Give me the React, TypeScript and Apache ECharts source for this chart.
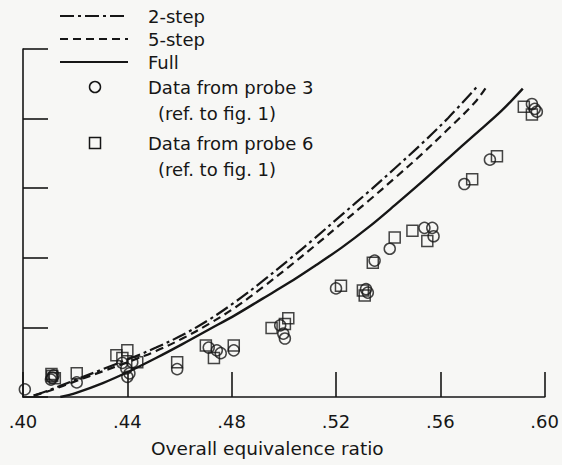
import React, { useEffect, useRef } from "react";
import * as echarts from "echarts";

// Tick values of the x axis (equivalence ratio)
const xTickMin = 0.4;
const xTickMax = 0.6;
const xTickStep = 0.04;

// Model curves: [equivalence ratio, value]
const twoStep: [number, number][] = [
  [0.4041, 0.02], [0.4102, 0.1], [0.4204, 0.25], [0.4306, 0.4], [0.4408, 0.55], [0.451, 0.71],
  [0.4611, 0.89], [0.4713, 1.11], [0.4815, 1.37], [0.4917, 1.66], [0.5019, 1.97], [0.5121, 2.29],
  [0.5223, 2.62], [0.5325, 2.95], [0.5427, 3.29], [0.5529, 3.64], [0.563, 4.01], [0.5741, 4.46],
];
const fiveStep: [number, number][] = [
  [0.4041, 0.02], [0.4102, 0.09], [0.4204, 0.23], [0.4306, 0.37], [0.4408, 0.51], [0.451, 0.66],
  [0.4611, 0.84], [0.4713, 1.05], [0.4815, 1.29], [0.4917, 1.57], [0.5019, 1.87], [0.5121, 2.18],
  [0.5223, 2.5], [0.5325, 2.82], [0.5427, 3.15], [0.5529, 3.49], [0.563, 3.85], [0.5732, 4.23], [0.5779, 4.47],
];
const full: [number, number][] = [
  [0.4143, 0], [0.4204, 0.06], [0.4306, 0.2], [0.4408, 0.37], [0.451, 0.56], [0.4611, 0.76],
  [0.4713, 0.97], [0.4815, 1.18], [0.4917, 1.41], [0.5019, 1.64], [0.5121, 1.89], [0.5223, 2.15],
  [0.5325, 2.44], [0.5427, 2.76], [0.5529, 3.09], [0.563, 3.43], [0.5732, 3.77], [0.5834, 4.11], [0.5916, 4.43],
];

// Measured data
const probe3: [number, number][] = [
  [0.4007, 0.11],
  [0.4112, 0.28], [0.4117, 0.31], [0.4107, 0.25],
  [0.4206, 0.21],
  [0.4381, 0.49], [0.4419, 0.5], [0.4408, 0.34], [0.44, 0.29], [0.4396, 0.41],
  [0.4591, 0.4],
  [0.4712, 0.71], [0.4743, 0.67], [0.4758, 0.63], [0.4808, 0.67],
  [0.4986, 1.03], [0.4998, 0.91], [0.5004, 0.84],
  [0.52, 1.56],
  [0.5322, 1.5], [0.5315, 1.55],
  [0.5348, 1.96], [0.5406, 2.13],
  [0.5539, 2.43], [0.5569, 2.43], [0.5574, 2.31],
  [0.5692, 3.06],
  [0.579, 3.41],
  [0.5951, 4.21], [0.5962, 4.14], [0.597, 4.1],
];
const probe6: [number, number][] = [
  [0.4112, 0.3], [0.4122, 0.27], [0.4109, 0.33],
  [0.4206, 0.34],
  [0.4358, 0.6], [0.44, 0.67], [0.4438, 0.5], [0.4381, 0.56],
  [0.4591, 0.5],
  [0.4701, 0.74], [0.4732, 0.56], [0.4808, 0.74],
  [0.4953, 0.99], [0.5017, 1.13], [0.5004, 1.05],
  [0.5219, 1.6],
  [0.5303, 1.53], [0.531, 1.46],
  [0.5341, 1.93], [0.5425, 2.29],
  [0.5493, 2.39], [0.555, 2.24],
  [0.5722, 3.13],
  [0.5817, 3.46],
  [0.592, 4.17], [0.5951, 4.06],
];

const legendLabels = ["2-step", "5-step", "Full", "Data from probe 3", "Data from probe 6"];
const legendSub = "(ref. to fig. 1)";
const xAxisTitle = "Overall equivalence ratio";

const INK = "#161616";
const FONT = "'DejaVu Sans', Verdana, sans-serif";
const DASHDOT = [14, 4, 3, 4];
const DASH = [8, 5];

export default function App() {
  const ref = useRef<HTMLDivElement>(null);
  useEffect(() => {
    if (!ref.current) return;
    const chart = echarts.init(ref.current, null, { renderer: "svg" });
    const lineSeries = (name: string, data: [number, number][], type: any, width: number) => ({
      name,
      type: "line",
      data,
      smooth: 0.35,
      showSymbol: false,
      symbol: "none",
      lineStyle: { color: INK, width, type },
      z: 3,
    });
    const scatterSeries = (name: string, data: [number, number][], symbol: string, size: number) => ({
      name,
      type: "scatter",
      data,
      symbol,
      symbolSize: size,
      itemStyle: { color: "rgba(0,0,0,0)", borderColor: INK, borderWidth: 1.5 },
      z: 4,
    });
    const legendText = (text: string, x: number, y: number) => ({
      type: "text",
      x,
      y,
      style: { text, fill: INK, font: `18px ${FONT}`, verticalAlign: "middle" },
    });
    const legendLine = (y: number, dash: any) => ({
      type: "line",
      shape: { x1: 60, y1: y, x2: 128, y2: y },
      style: { stroke: INK, lineWidth: 2.2, lineDash: dash },
    });
    chart.setOption({
      animation: false,
      backgroundColor: "#f7f7f5",
      grid: { left: 23, right: 14, top: 49, bottom: 68, containLabel: false },
      xAxis: {
        type: "value",
        min: xTickMin,
        max: xTickMax,
        interval: xTickStep,
        splitLine: { show: false },
        axisLine: { lineStyle: { color: INK, width: 1.6 } },
        axisTick: { inside: true, length: 25, lineStyle: { color: INK, width: 1.6 } },
        axisLabel: {
          color: INK,
          fontSize: 18,
          fontFamily: FONT,
          margin: 15,
          formatter: (v: number) => v.toFixed(2).replace(/^0/, ""),
        },
        name: xAxisTitle,
        nameLocation: "middle",
        nameGap: 42,
        nameTextStyle: { color: INK, fontSize: 18.5, fontFamily: FONT, padding: [0, 33, 0, 0] },
      },
      yAxis: {
        type: "value",
        min: 0,
        max: 5,
        interval: 1,
        splitLine: { show: false },
        axisLine: { show: true, lineStyle: { color: INK, width: 1.6 } },
        axisTick: { show: true, inside: true, length: 25, lineStyle: { color: INK, width: 1.6 } },
        axisLabel: { show: false },
      },
      series: [
        lineSeries(legendLabels[0], twoStep, DASHDOT, 2.2),
        lineSeries(legendLabels[1], fiveStep, DASH, 2.2),
        lineSeries(legendLabels[2], full, "solid", 2.4),
        scatterSeries(legendLabels[3], probe3, "circle", 11),
        scatterSeries(legendLabels[4], probe6, "rect", 11),
      ],
      graphic: [
        legendLine(16, DASHDOT),
        legendText(legendLabels[0], 148, 16),
        legendLine(39, DASH),
        legendText(legendLabels[1], 148, 39),
        legendLine(62, null),
        legendText(legendLabels[2], 148, 62),
        {
          type: "circle",
          shape: { cx: 95, cy: 87, r: 5.5 },
          style: { fill: "none", stroke: INK, lineWidth: 1.5 },
        },
        legendText(legendLabels[3], 148, 87),
        legendText(legendSub, 158, 113),
        {
          type: "rect",
          shape: { x: 89.5, y: 137.5, width: 11, height: 11 },
          style: { fill: "none", stroke: INK, lineWidth: 1.5 },
        },
        legendText(legendLabels[4], 148, 143),
        legendText(legendSub, 158, 169),
      ],
    });
    return () => chart.dispose();
  }, []);
  return (
    <div
      ref={ref}
      style={{ position: "fixed", left: 0, top: 0, width: 562, height: 465 }}
    />
  );
}
